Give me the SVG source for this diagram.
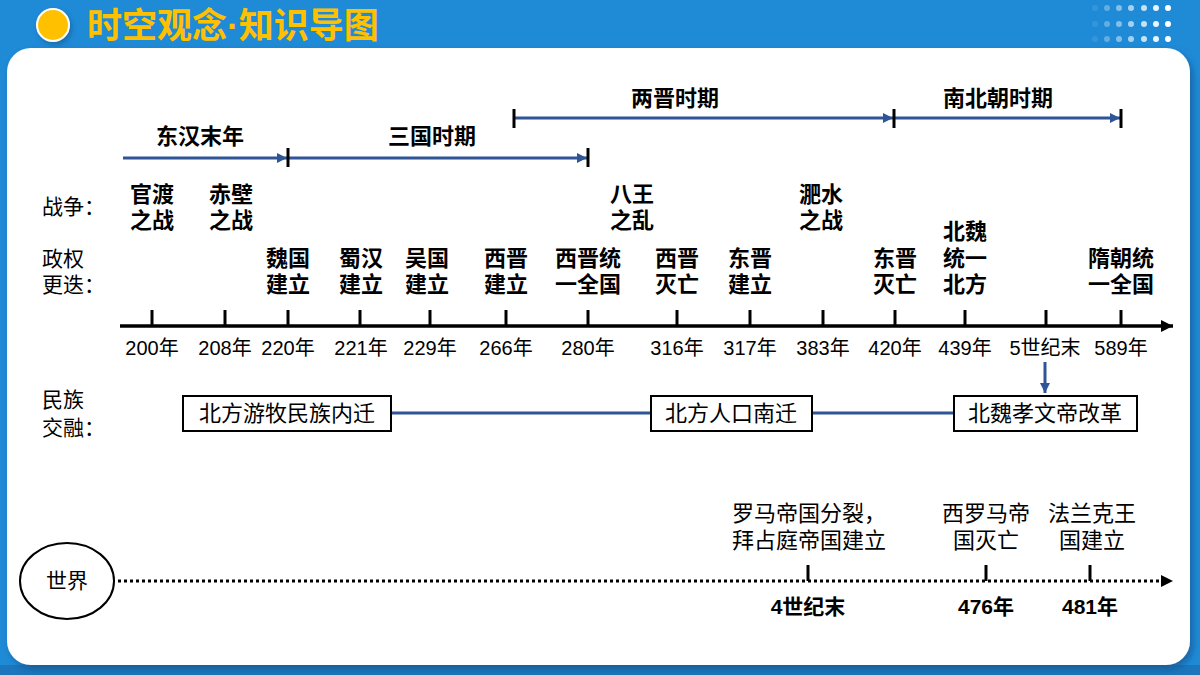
<svg xmlns="http://www.w3.org/2000/svg" width="1200" height="675" viewBox="0 0 1200 675">
<defs>
<style>
.bg{fill:#1f8ad6}
.card{fill:#ffffff}
.lbl{font-family:"Liberation Sans","Noto Sans CJK SC",sans-serif;font-size:21px;fill:#000}
.b{font-family:"Liberation Sans","Noto Sans CJK SC",sans-serif;font-size:22px;font-weight:bold;fill:#000;text-anchor:middle}
.yr{font-family:"Liberation Sans","Noto Sans CJK SC",sans-serif;font-size:20px;fill:#000;text-anchor:middle}
.wy{font-family:"Liberation Sans","Noto Sans CJK SC",sans-serif;font-size:21px;font-weight:bold;fill:#000;text-anchor:middle}
.sf{font-family:"Liberation Serif","Noto Sans CJK SC",serif;font-size:22px;fill:#000;text-anchor:middle}
.per{stroke:#2f5597;stroke-width:3;fill:none}
.tk{stroke:#000;stroke-width:3}
.box{fill:#fff;stroke:#000;stroke-width:2}
.dot{fill:#fff}
.title{font-family:"Liberation Sans","Noto Sans CJK SC",sans-serif;font-size:35px;font-weight:bold;fill:#ffc000}
</style>
<marker id="ba" viewBox="0 0 10 10" refX="10" refY="5" markerWidth="10" markerHeight="10" markerUnits="userSpaceOnUse" orient="auto"><path d="M0,0 L10,5 L0,10 z" fill="#2f5597"/></marker>
<marker id="ka" viewBox="0 0 10 10" refX="10" refY="5" markerWidth="14" markerHeight="12" markerUnits="userSpaceOnUse" orient="auto"><path d="M0,0 L10,5 L0,10 z" fill="#000"/></marker>
<filter id="sh" x="-5%" y="-5%" width="110%" height="115%"><feDropShadow dx="3" dy="4" stdDeviation="3" flood-color="#0b4d85" flood-opacity="0.6"/></filter>
<filter id="csh" x="-50%" y="-50%" width="200%" height="200%"><feDropShadow dx="2" dy="3" stdDeviation="2" flood-color="#0b4d85" flood-opacity="0.5"/></filter>
</defs>
<rect class="bg" x="0" y="0" width="1200" height="675"/>
<rect x="0" y="665" width="1200" height="10" fill="#1b76bb"/>
<g id="header">
<circle cx="53" cy="25" r="16" fill="#ffc000" stroke="#fff" stroke-width="2" filter="url(#csh)"/>
<text class="title" x="87" y="38">时空观念·知识导图</text>
<g id="dots">
<circle class="dot" cx="1095" cy="8" r="3" opacity="0.1"/><circle class="dot" cx="1107" cy="8" r="3" opacity="0.3"/><circle class="dot" cx="1119" cy="8" r="3" opacity="0.45"/><circle class="dot" cx="1131" cy="8" r="3" opacity="0.6"/><circle class="dot" cx="1144" cy="8" r="3" opacity="0.75"/><circle class="dot" cx="1156" cy="8" r="3" opacity="0.9"/><circle class="dot" cx="1168" cy="8" r="3" opacity="1"/>
<circle class="dot" cx="1095" cy="24" r="3" opacity="0.1"/><circle class="dot" cx="1107" cy="24" r="3" opacity="0.3"/><circle class="dot" cx="1119" cy="24" r="3" opacity="0.45"/><circle class="dot" cx="1131" cy="24" r="3" opacity="0.6"/><circle class="dot" cx="1144" cy="24" r="3" opacity="0.75"/><circle class="dot" cx="1156" cy="24" r="3" opacity="0.9"/><circle class="dot" cx="1168" cy="24" r="3" opacity="1"/>
<circle class="dot" cx="1095" cy="39" r="3" opacity="0.1"/><circle class="dot" cx="1107" cy="39" r="3" opacity="0.3"/><circle class="dot" cx="1119" cy="39" r="3" opacity="0.45"/><circle class="dot" cx="1131" cy="39" r="3" opacity="0.6"/><circle class="dot" cx="1144" cy="39" r="3" opacity="0.75"/><circle class="dot" cx="1156" cy="39" r="3" opacity="0.9"/><circle class="dot" cx="1168" cy="39" r="3" opacity="1"/>
</g>
</g>
<rect class="card" x="7" y="48" width="1183" height="617" rx="24" filter="url(#sh)"/>

<g id="connectors">
<line class="per" x1="123" y1="158" x2="287" y2="158" marker-end="url(#ba)"/>
<line class="per" x1="289" y1="158" x2="587" y2="158" marker-end="url(#ba)"/>
<line class="per" x1="515" y1="118" x2="893" y2="118" marker-end="url(#ba)"/>
<line class="per" x1="895" y1="118" x2="1120" y2="118" marker-end="url(#ba)"/>
<line class="tk" x1="288" y1="148" x2="288" y2="167"/>
<line class="tk" x1="588" y1="148" x2="588" y2="167"/>
<line class="tk" x1="514" y1="109" x2="514" y2="128"/>
<line class="tk" x1="894" y1="109" x2="894" y2="128"/>
<line class="tk" x1="1121" y1="109" x2="1121" y2="128"/>
<line x1="120" y1="326" x2="1173" y2="326" stroke="#000" stroke-width="3.5" marker-end="url(#ka)"/>
<g class="ticks">
<line class="tk" x1="152" y1="310" x2="152" y2="326"/>
<line class="tk" x1="225" y1="310" x2="225" y2="326"/>
<line class="tk" x1="288" y1="310" x2="288" y2="326"/>
<line class="tk" x1="360" y1="310" x2="360" y2="326"/>
<line class="tk" x1="430" y1="310" x2="430" y2="326"/>
<line class="tk" x1="506" y1="310" x2="506" y2="326"/>
<line class="tk" x1="588" y1="310" x2="588" y2="326"/>
<line class="tk" x1="677" y1="310" x2="677" y2="326"/>
<line class="tk" x1="750" y1="310" x2="750" y2="326"/>
<line class="tk" x1="823" y1="310" x2="823" y2="326"/>
<line class="tk" x1="895" y1="310" x2="895" y2="326"/>
<line class="tk" x1="965" y1="310" x2="965" y2="326"/>
<line class="tk" x1="1046" y1="310" x2="1046" y2="326"/>
<line class="tk" x1="1121" y1="310" x2="1121" y2="326"/>
</g>
<line class="per" x1="1045" y1="362" x2="1045" y2="393" marker-end="url(#ba)"/>
<line class="per" x1="392" y1="413" x2="651" y2="413"/>
<line class="per" x1="812" y1="413" x2="954" y2="413"/>
<line x1="118" y1="581" x2="1162" y2="581" stroke="#000" stroke-width="3" stroke-dasharray="3 3"/>
<path d="M1161,575 L1173,581 L1161,587 z" fill="#000"/>
<line class="tk" x1="808" y1="565" x2="808" y2="581"/>
<line class="tk" x1="986" y1="565" x2="986" y2="581"/>
<line class="tk" x1="1090" y1="565" x2="1090" y2="581"/>
</g>

<g id="period-labels">
<text class="b" x="200" y="144">东汉末年</text>
<text class="b" x="432" y="144">三国时期</text>
<text class="b" x="675" y="106">两晋时期</text>
<text class="b" x="998" y="106">南北朝时期</text>
</g>

<g id="row-labels">
<text class="lbl" x="42" y="214">战争：</text>
<text class="lbl" x="42" y="266">政权</text>
<text class="lbl" x="42" y="292">更迭：</text>
<text class="lbl" x="42" y="407">民族</text>
<text class="lbl" x="42" y="435">交融：</text>
</g>

<g id="wars">
<g id="w-guandu"><text class="b" x="152" y="202">官渡</text><text class="b" x="152" y="228">之战</text></g>
<g id="w-chibi"><text class="b" x="231" y="202">赤壁</text><text class="b" x="231" y="228">之战</text></g>
<g id="w-bawang"><text class="b" x="632" y="202">八王</text><text class="b" x="632" y="228">之乱</text></g>
<g id="w-feishui"><text class="b" x="821" y="202">淝水</text><text class="b" x="821" y="228">之战</text></g>
</g>

<g id="regimes">
<g id="r-wei"><text class="b" x="288" y="266">魏国</text><text class="b" x="288" y="292">建立</text></g>
<g id="r-shu"><text class="b" x="361" y="266">蜀汉</text><text class="b" x="361" y="292">建立</text></g>
<g id="r-wu"><text class="b" x="427" y="266">吴国</text><text class="b" x="427" y="292">建立</text></g>
<g id="r-xijin"><text class="b" x="506" y="266">西晋</text><text class="b" x="506" y="292">建立</text></g>
<g id="r-xijin-unify"><text class="b" x="588" y="266">西晋统</text><text class="b" x="588" y="292">一全国</text></g>
<g id="r-xijin-fall"><text class="b" x="677" y="266">西晋</text><text class="b" x="677" y="292">灭亡</text></g>
<g id="r-dongjin"><text class="b" x="750" y="266">东晋</text><text class="b" x="750" y="292">建立</text></g>
<g id="r-dongjin-fall"><text class="b" x="895" y="266">东晋</text><text class="b" x="895" y="292">灭亡</text></g>
<g id="r-beiwei"><text class="b" x="965" y="239">北魏</text><text class="b" x="965" y="266">统一</text><text class="b" x="965" y="292">北方</text></g>
<g id="r-sui"><text class="b" x="1121" y="266">隋朝统</text><text class="b" x="1121" y="292">一全国</text></g>
</g>

<g id="years">
<text class="yr" x="152" y="355">200年</text>
<text class="yr" x="225" y="355">208年</text>
<text class="yr" x="288" y="355">220年</text>
<text class="yr" x="361" y="355">221年</text>
<text class="yr" x="430" y="355">229年</text>
<text class="yr" x="506" y="355">266年</text>
<text class="yr" x="588" y="355">280年</text>
<text class="yr" x="677" y="355">316年</text>
<text class="yr" x="750" y="355">317年</text>
<text class="yr" x="823" y="355">383年</text>
<text class="yr" x="895" y="355">420年</text>
<text class="yr" x="965" y="355">439年</text>
<text class="yr" x="1045" y="355">5世纪末</text>
<text class="yr" x="1121" y="355">589年</text>
</g>

<g id="box-neiqian"><rect class="box" x="183" y="396" width="208" height="35"/><text class="sf" x="287" y="421">北方游牧民族内迁</text></g>
<g id="box-nanqian"><rect class="box" x="651" y="396" width="161" height="35"/><text class="sf" x="731" y="421">北方人口南迁</text></g>
<g id="box-gaige"><rect class="box" x="954" y="396" width="183" height="35"/><text class="sf" x="1045" y="421">北魏孝文帝改革</text></g>

<g id="world">
<ellipse cx="67" cy="581" rx="47" ry="38" fill="#fff" stroke="#000" stroke-width="2"/>
<text class="lbl" x="67" y="588" text-anchor="middle">世界</text>
</g>
<g id="world-events">
<g id="we-rome"><text class="sf" x="809" y="521">罗马帝国分裂，</text><text class="sf" x="809" y="548">拜占庭帝国建立</text><text class="wy" x="808" y="614">4世纪末</text></g>
<g id="we-westrome"><text class="sf" x="986" y="521">西罗马帝</text><text class="sf" x="986" y="548">国灭亡</text><text class="wy" x="986" y="614">476年</text></g>
<g id="we-frank"><text class="sf" x="1092" y="521">法兰克王</text><text class="sf" x="1092" y="548">国建立</text><text class="wy" x="1090" y="614">481年</text></g>
</g>
</svg>
